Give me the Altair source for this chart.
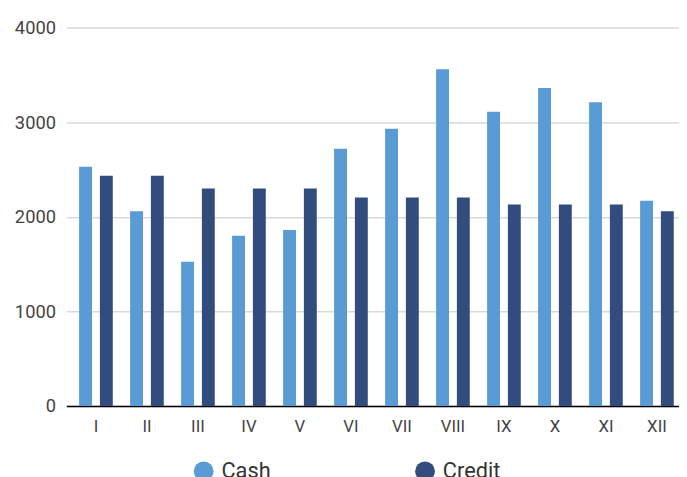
import altair as alt
import pandas as pd

months = ["I", "II", "III", "IV", "V", "VI", "VII", "VIII", "IX", "X", "XI", "XII"]
cash = [2530, 2060, 1525, 1800, 1860, 2720, 2930, 3560, 3110, 3360, 3210, 2170]
credit = [2435, 2435, 2300, 2300, 2300, 2205, 2205, 2205, 2130, 2130, 2130, 2060]
series = ["Cash", "Credit"]
colors = ["#589BD5", "#314C7D"]
y_ticks = [0, 1000, 2000, 3000, 4000]

rows = []
for i, m in enumerate(months):
    rows.append({"month": m, "type": "Cash", "value": cash[i]})
    rows.append({"month": m, "type": "Credit", "value": credit[i]})
df = pd.DataFrame(rows)

FONT = "Roboto"

chart = alt.Chart(df).mark_bar().encode(
    x=alt.X("month:N", sort=months,
            scale=alt.Scale(paddingInner=0.34, paddingOuter=0.177, align=0.71),
            axis=alt.Axis(title=None, labelAngle=0, ticks=False, domainColor="#000000",
                          domainWidth=1.5, labelPadding=13, labelFontSize=17,
                          labelColor="#444444", labelFont=FONT)),
    xOffset=alt.XOffset("type:N", sort=series,
                        scale=alt.Scale(paddingInner=0.38, paddingOuter=0)),
    y=alt.Y("value:Q", scale=alt.Scale(domain=[0, 4000]),
            axis=alt.Axis(title=None, values=y_ticks, format="d", domain=False, ticks=False,
                          gridColor="#d9d9d9", gridWidth=1.5, labelPadding=11,
                          labelFontSize=18.5, labelColor="#444444", labelFont=FONT)),
    color=alt.Color("type:N", sort=series,
                    scale=alt.Scale(domain=series, range=colors),
                    legend=alt.Legend(title=None, orient="none", legendX=128, legendY=438,
                                      direction="horizontal", symbolType="circle",
                                      symbolSize=400, symbolStrokeWidth=0,
                                      labelFontSize=22, labelFont=FONT,
                                      labelColor="#333333", labelOffset=7,
                                      columnPadding=145)),
).properties(
    width=620, height=383,
    autosize=alt.AutoSizeParams(type="none"),
    padding={"left": 59, "top": 17, "right": 0, "bottom": 69},
).configure_view(stroke=None)

chart.save("out.html", embed_options={"renderer": "svg", "actions": False})
